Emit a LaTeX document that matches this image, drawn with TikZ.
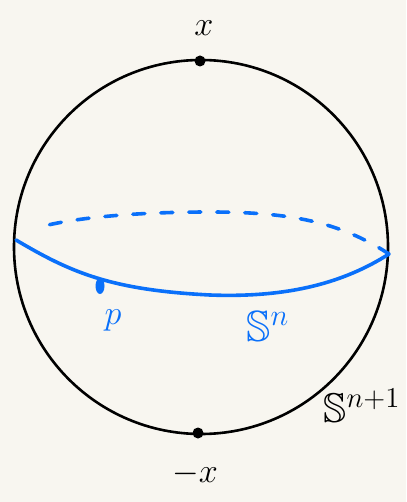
\documentclass[tikz,border=0pt]{standalone}
\usepackage{amssymb}
\usepackage{graphicx}
\definecolor{paper}{RGB}{248,246,240}
\definecolor{pen}{RGB}{10,112,250}
\newcommand{\handlab}[2][1.65]{\scalebox{#1}{\huge #2}}
\tikzset{
  sphere/.style={draw=black, line width=2.6pt, circle, minimum size=374pt, inner sep=0pt},
  blk/.style={circle, fill=black, inner sep=0pt, minimum size=11pt},
  bluedot/.style={ellipse, fill=pen, inner sep=0pt, minimum width=9pt, minimum height=16pt},
  lbl/.style={inner sep=0pt},
  bluelbl/.style={lbl, text=pen},
  equator/.style={draw=pen, line width=3.6pt, line cap=round},
  backeq/.style={equator, dash pattern=on 12pt off 16pt}
}
\usetikzlibrary{shapes.geometric}
\begin{document}
\begin{tikzpicture}[x=1pt,y=-1pt]
  \fill[paper] (0,0) rectangle (406,502);
  \useasboundingbox (0,0) rectangle (406,502);
  \node[sphere] (S) at (201,247) {};
  \coordinate (L) at (16,240);
  \coordinate (R) at (389,254);
  \draw[equator] (L) .. controls (70,272) and (110,290) .. (210,295)
                     .. controls (290,298) and (345,282) .. (R);
  \draw[backeq] (R) .. controls (340,222) and (290,212) .. (210,212)
                    .. controls (120,212) and (70,220) .. (48,225);
  \node[blk] (N) at (200,61) {};
  \node[blk] (Sd) at (198,433) {};
  \node[bluedot] (P) at (100,286) {};
  \node[lbl] (x) at (204,28) {\handlab{$x$}};
  \node[lbl] (mx) at (195,474) {\handlab{$-x$}};
  \node[bluelbl] (p) at (113,320) {\handlab{$p$}};
  \node[bluelbl] (Sn) at (268,326) {\handlab[2.1]{$\mathbb{S}^{n}$}};
  \node[lbl] (Sn1) at (362,406) {\handlab[2.0]{$\mathbb{S}^{n+1}$}};
\end{tikzpicture}
\end{document}
